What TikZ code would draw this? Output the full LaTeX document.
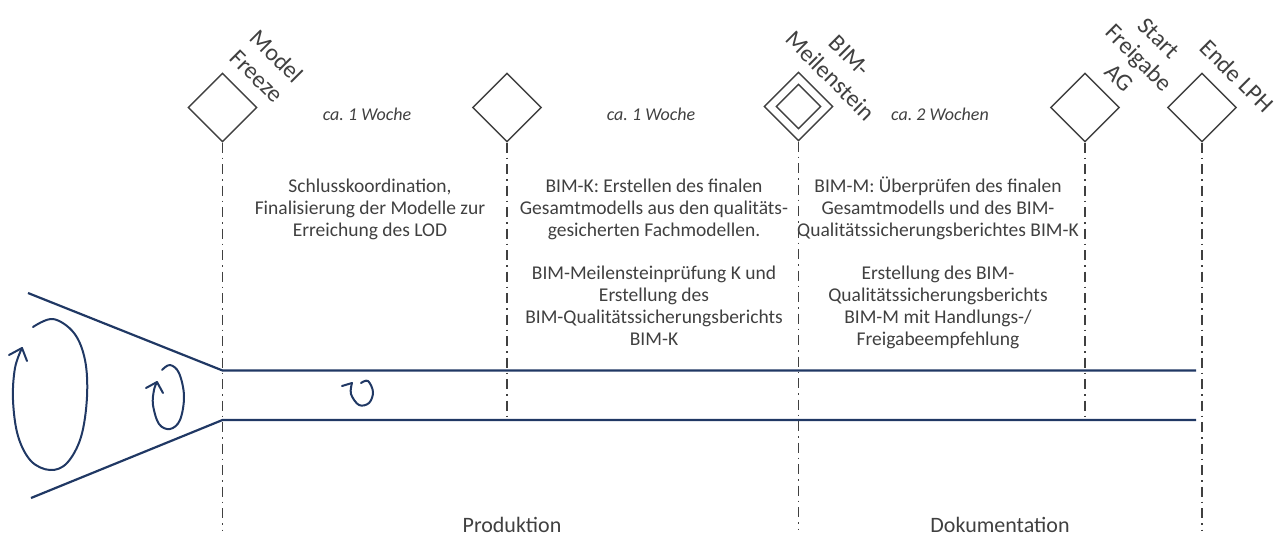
\documentclass[tikz,border=0pt]{standalone}
\usepackage{fontspec}
\setmainfont{Carlito}
\usetikzlibrary{shapes.geometric}
\definecolor{navy}{RGB}{32,56,100}
\definecolor{txtgray}{RGB}{64,64,64}
\frenchspacing

\begin{document}
\begin{tikzpicture}[x=1pt, y=-1pt,
    gate/.style={draw=txtgray, line width=1.4pt, shape=diamond, aspect=1,
        minimum width=69pt, minimum height=69pt, inner sep=0pt},
    phase/.style={draw=txtgray, line width=1.2pt,
        dash pattern=on 10pt off 5pt on 1.5pt off 5pt},
    flow/.style={draw=navy, line width=2.2pt},
    loop/.style={draw=navy, line width=2pt, line cap=round, line join=round},
    tag/.style={text=txtgray, rotate=-45, align=center, inner sep=0pt,
        font=\fontsize{24}{28}\selectfont},
    span/.style={text=txtgray, anchor=base, inner sep=0pt,
        font=\fontsize{18}{22}\selectfont\itshape},
    task/.style={text=txtgray, align=center, anchor=base, inner sep=0pt,
        font=\fontsize{19.5}{22}\selectfont},
    stage/.style={text=txtgray, anchor=base, inner sep=0pt,
        font=\fontsize{22}{26}\selectfont}]
    \useasboundingbox (0,0) rectangle (1278,536);

    % Milestones
    \node[gate] (m1) at (222.5,107.5) {};
    \node[gate] (m2) at (507,107.5) {};
    \node[gate] (m3) at (798.5,106.5) {};
    \node[gate, minimum width=45pt, minimum height=45pt] (m3i) at (m3) {};
    \node[gate] (m4) at (1085,107.5) {};
    \node[gate] (m5) at (1202,107.5) {};

    \node[tag] (t1) at (267,66) {Model\\Freeze};
    \node[tag] (t3) at (840,66) {BIM-\\Meilenstein};
    \node[tag] (t4) at (1139,58) {Start\\Freigabe\\AG};
    \node[tag] (t5) at (1237,76) {Ende LPH};

    % Phase lines (hidden end points)
    \coordinate (b1) at (222.5,530);
    \coordinate (b2) at (507,420);
    \coordinate (b3) at (798.5,530);
    \coordinate (b4) at (1085,420);
    \coordinate (b5) at (1202,530);
    \draw[phase] (m1.south) -- (b1);
    \draw[phase] (m2.south) -- (b2);
    \draw[phase] (m3.south) -- (b3);
    \draw[phase] (m4.south) -- (b4);
    \draw[phase] (m5.south) -- (b5);

    % Funnel and channel
    \coordinate (f1) at (28,293);
    \coordinate (f2) at (31,498);
    \coordinate (c1) at (222.5,370.5);
    \coordinate (c2) at (222.5,420);
    \coordinate (e1) at (1196,370.5);
    \coordinate (e2) at (1196,420);
    \draw[flow] (f1) -- (c1) -- (e1);
    \draw[flow] (f2) -- (c2) -- (e2);

    % Iteration loops
    \draw[loop] plot[smooth, tension=0.6] coordinates {(33,327) (53,319) (74,333)
        (85,360) (87,397) (81,437) (67,463) (50,470) (31,461) (18,436) (13,400)
        (15,368) (22,348)};
    \draw[loop] (9,355) -- (22,348) -- (27,361);
    \draw[loop] plot[smooth, tension=0.6] coordinates {(162,370) (170,365)
        (179,373) (184,396) (180,420) (170,429) (159,424) (153,405) (154,390)
        (157,382)};
    \draw[loop] (146,388) -- (157,382) -- (163,393);
    \draw[loop] (342,386) -- (352,383);
    \draw[loop] plot[smooth, tension=0.6] coordinates {(352,383) (351,394)
        (359,405) (369,403) (373,392) (368,381) (361,383)};

    % Durations
    \node[span] (d1) at (367,120) {ca. 1 Woche};
    \node[span] (d2) at (651,120) {ca. 1 Woche};
    \node[span] (d3) at (940,120) {ca. 2 Wochen};

    % Tasks (base = last line)
    \node[task] (k1) at (370,236) {Schlusskoordination,\\Finalisierung der Modelle zur\\Erreichung des LOD};
    \node[task] (k2) at (654,345) {BIM-K: Erstellen des finalen\\Gesamtmodells aus den qualitäts-\\gesicherten Fachmodellen.\\[21pt]BIM-Meilensteinprüfung K und\\Erstellung des\\BIM-Qualitätssicherungsberichts\\BIM-K};
    \node[task] (k3) at (938,345) {BIM-M: Überprüfen des finalen\\Gesamtmodells und des BIM-\\Qualitätssicherungsberichtes BIM-K\\[21pt]Erstellung des BIM-\\Qualitätssicherungsberichts\\BIM-M mit Handlungs-/\\Freigabeempfehlung};

    % Stages
    \node[stage] (p1) at (512,532) {Produktion};
    \node[stage] (p2) at (1000,532) {Dokumentation};
\end{tikzpicture}
\end{document}
